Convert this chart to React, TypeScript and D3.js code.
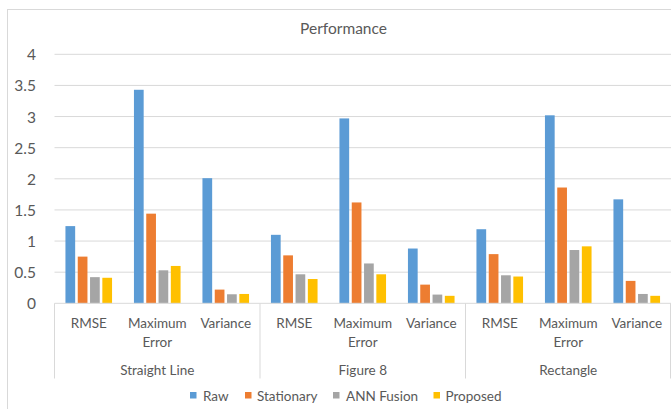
import React from "react";
import * as d3 from "d3";

// Error metrics for each trajectory and method
const groups = ["Straight Line", "Figure 8", "Rectangle"];
const metrics = ["RMSE", "Maximum Error", "Variance"];
const metricLines: Record<string, string[]> = {
  RMSE: ["RMSE"],
  "Maximum Error": ["Maximum", "Error"],
  Variance: ["Variance"],
};
const series = ["Raw", "Stationary", "ANN Fusion", "Proposed"];
const colors = ["#5B9BD5", "#ED7D31", "#A5A5A5", "#FFC000"];

// values[series][group*3 + metric]
const raw = [1.24, 3.43, 2.01, 1.1, 2.97, 0.88, 1.19, 3.02, 1.67];
const stationary = [0.75, 1.44, 0.22, 0.77, 1.62, 0.3, 0.79, 1.86, 0.36];
const annFusion = [0.42, 0.53, 0.145, 0.466, 0.64, 0.14, 0.45, 0.856, 0.15];
const proposed = [0.41, 0.6, 0.15, 0.39, 0.466, 0.12, 0.43, 0.915, 0.12];
const seriesValues = [raw, stationary, annFusion, proposed];

const yTicks = [0, 0.5, 1, 1.5, 2, 2.5, 3, 3.5, 4];
const yTickLabels = ["0", "0.5", "1", "1.5", "2", "2.5", "3", "3.5", "4"];

const W = 671;
const H = 409;
const plotLeft = 54.5;
const plotRight = 671;
const plotTop = 54.3;
const plotBottom = 303.3;
const FONT = "Lato, 'Open Sans', sans-serif";
const TEXT = "#595959";
const GRID = "#D9D9D9";

export default function App() {
  const slots = groups.flatMap((g) => metrics.map((m) => `${g}|${m}`));
  const x0 = d3.scaleBand<string>().domain(slots).range([plotLeft, plotRight]);
  const groupScale = d3.scaleBand<string>().domain(groups).range([plotLeft, plotRight]);
  const clusterWidth = 46.6;
  const x1 = d3
    .scaleBand<string>()
    .domain(series)
    .range([0, clusterWidth])
    .paddingInner(0.21);
  const y = d3.scaleLinear().domain([0, 4]).range([plotBottom, plotTop]);
  const slotOffset = (x0.bandwidth() - clusterWidth) / 2;

  const legendItems = [
    { x: 190, textX: 203 },
    { x: 245, textX: 257 },
    { x: 333, textX: 346 },
    { x: 433.5, textX: 445.5 },
  ];

  return (
    <svg
      width={W}
      height={H}
      style={{ position: "fixed", left: 0, top: 0, background: "#fff" }}
      fontFamily={FONT}
    >
      <rect x={0} y={0} width={W} height={H} fill="#fff" />
      {/* chart frame */}
      <rect x={7.5} y={9.5} width={W + 20} height={H + 20} fill="none" stroke={GRID} />

      <text x={343.5} y={27.5} textAnchor="middle" dominantBaseline="central" fontSize={15.5} fill={TEXT}>
        Performance
      </text>

      {/* gridlines and y tick labels */}
      {yTicks.map((t, i) => (
        <g key={t}>
          {t > 0 && (
            <line x1={plotLeft} x2={plotRight} y1={y(t)} y2={y(t)} stroke={GRID} strokeWidth={1} />
          )}
          <text
            x={36}
            y={y(t)}
            textAnchor="end"
            dominantBaseline="central"
            fontSize={15.5}
            fill={TEXT}
          >
            {yTickLabels[i]}
          </text>
        </g>
      ))}

      {/* bars */}
      {seriesValues.map((vals, si) =>
        vals.map((v, k) => {
          const bx = (x0(slots[k]) as number) + slotOffset + (x1(series[si]) as number);
          return (
            <rect
              key={`${si}-${k}`}
              x={bx}
              y={y(v)}
              width={x1.bandwidth()}
              height={plotBottom - y(v)}
              fill={colors[si]}
            />
          );
        })
      )}

      {/* category axis */}
      <line x1={plotLeft} x2={plotRight} y1={plotBottom} y2={plotBottom} stroke={GRID} />
      {[...groups.map((g) => groupScale(g) as number), plotRight - 0.5].map((gx, i) => (
        <line key={i} x1={gx} x2={gx} y1={plotBottom} y2={378.5} stroke={GRID} />
      ))}
      {slots.map((s) => {
        const m = s.split("|")[1];
        const cx = (x0(s) as number) + x0.bandwidth() / 2;
        return metricLines[m].map((ln, li) => (
          <text
            key={`${s}-${li}`}
            x={cx}
            y={322.5 + li * 19}
            textAnchor="middle"
            dominantBaseline="central"
            fontSize={13.5}
            fill={TEXT}
          >
            {ln}
          </text>
        ));
      })}
      {groups.map((g) => (
        <text
          key={g}
          x={(groupScale(g) as number) + groupScale.bandwidth() / 2}
          y={369.5}
          textAnchor="middle"
          dominantBaseline="central"
          fontSize={13.5}
          fill={TEXT}
        >
          {g}
        </text>
      ))}

      {/* legend */}
      {series.map((s, i) => (
        <g key={s}>
          <rect x={legendItems[i].x} y={392} width={6.5} height={6.5} fill={colors[i]} />
          <text
            x={legendItems[i].textX}
            y={395.5}
            dominantBaseline="central"
            fontSize={13.5}
            fill={TEXT}
          >
            {s}
          </text>
        </g>
      ))}
    </svg>
  );
}
